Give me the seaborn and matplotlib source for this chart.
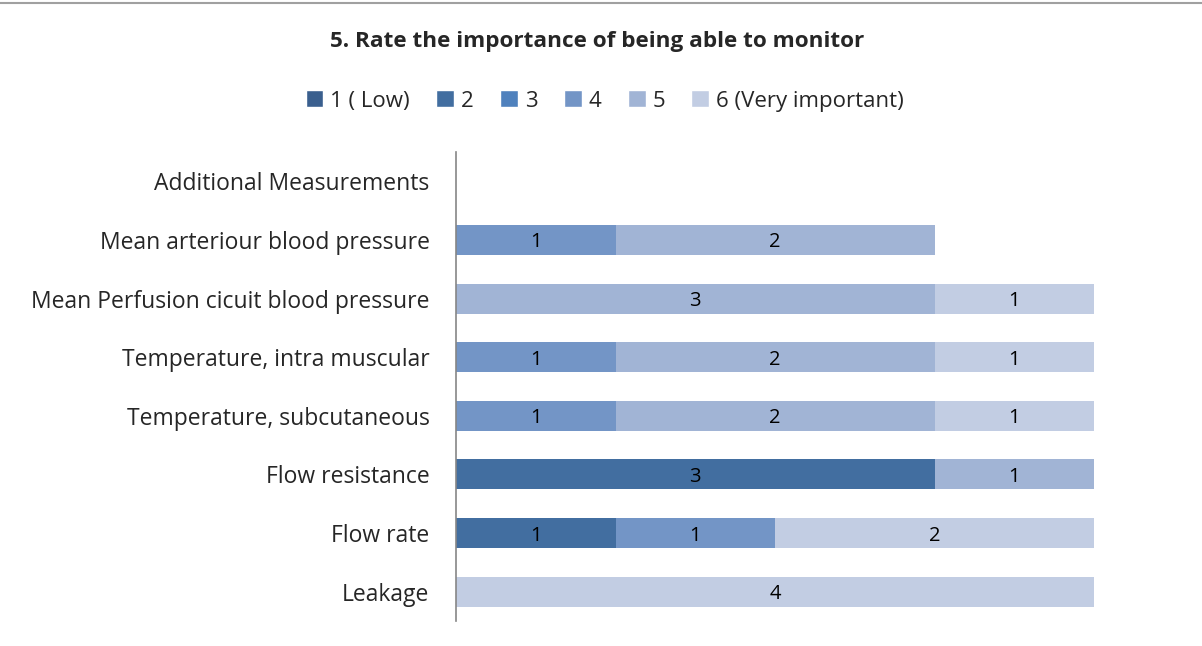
import pandas as pd
import seaborn as sns
import matplotlib.pyplot as plt
from matplotlib.patches import Patch
from matplotlib.lines import Line2D

# --- 資料 ---
categories = ["Additional Measurements", "Mean arteriour blood pressure",
              "Mean Perfusion cicuit blood pressure", "Temperature, intra muscular",
              "Temperature, subcutaneous", "Flow resistance", "Flow rate", "Leakage"]
levels = ["1 ( Low)", "2", "3", "4", "5", "6 (Very important)"]
r1 = [0, 0, 0, 0, 0, 0, 0, 0]
r2 = [0, 0, 0, 0, 0, 3, 1, 0]
r3 = [0, 0, 0, 0, 0, 0, 0, 0]
r4 = [0, 1, 0, 1, 1, 0, 1, 0]
r5 = [0, 2, 3, 2, 2, 1, 0, 0]
r6 = [0, 0, 1, 1, 1, 0, 2, 4]
colors = ["#3A5F8E", "#426EA0", "#4F81BD", "#7395C6", "#A1B4D5", "#C2CDE3"]

df = pd.DataFrame({"Category": categories, levels[0]: r1, levels[1]: r2, levels[2]: r3,
                   levels[3]: r4, levels[4]: r5, levels[5]: r6})
cum = df[levels].cumsum(axis=1)

sns.set_style("white")
plt.rcParams['font.family'] = ['Open Sans', 'DejaVu Sans']

fig = plt.figure(figsize=(12.02, 6.46), dpi=100)
ax = fig.add_axes([456 / 1202, 1 - 621 / 646, (1094 - 456) / 1202, (621 - 152) / 646])

# 疊加長條：由累計最大者先畫
for i in range(len(levels) - 1, -1, -1):
    sns.barplot(x=cum[levels[i]], y=df["Category"], color=colors[i], orient="h",
                width=0.51, saturation=1, linewidth=0, ax=ax)

# 數值標籤
for j, cat in enumerate(categories):
    left = 0
    for lv in levels:
        v = df.loc[j, lv]
        if v > 0:
            ax.text(left + v / 2, j, str(v), ha="center", va="center_baseline",
                    fontsize=14.5, color="black")
        left += v

ax.set_xlim(0, 4)
ax.set_ylim(len(categories) - 0.5, -0.5)
ax.set_xlabel("")
ax.set_ylabel("")
ax.set_xticks([])
ax.tick_params(axis="y", length=0, labelsize=16.5, pad=19)
for s in ["top", "right", "bottom"]:
    ax.spines[s].set_visible(False)
ax.spines["left"].set_color("#868686")
ax.spines["left"].set_linewidth(1.2)

fig.text(0.497, 1 - 42 / 646, "5. Rate the importance of being able to monitor",
         ha="center", va="center", fontsize=16.2, fontweight="bold")

handles = [Patch(facecolor=c, label=l) for c, l in zip(colors, levels)]
fig.legend(handles=handles, loc="center", bbox_to_anchor=(0.503, 1 - 101 / 646), ncol=6,
           frameon=False, fontsize=16, handlelength=0.8, handleheight=0.8,
           handletextpad=0.3, columnspacing=1.2)

fig.add_artist(Line2D([0, 1], [1 - 3 / 646, 1 - 3 / 646], color="#A0A0A0", linewidth=1.5))

fig.savefig("out.png", dpi=100)
